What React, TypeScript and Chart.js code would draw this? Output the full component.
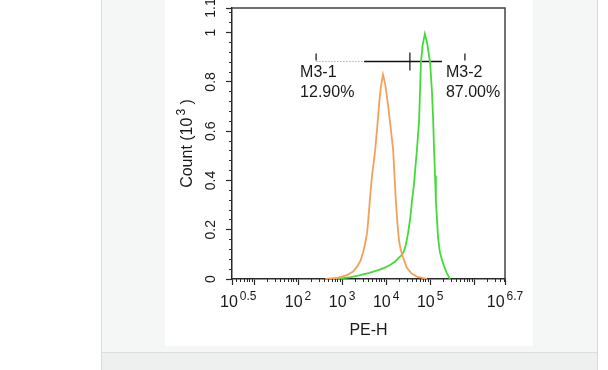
import React, { useEffect, useRef } from 'react';
import { Chart, registerables } from 'chart.js';

Chart.register(...registerables);

// ---- data (PE-H intensity, Count in 10^3) ----
const orangeX = [417, 759, 1290, 1780, 2190, 2630, 3020, 3390, 3720, 3980, 4270, 4790, 5620, 6310, 6920, 7590, 8510, 9550, 11000, 12600, 14500, 15500, 16600, 18200, 19500, 21400, 24000, 29500, 38000, 50100, 85100];
const orangeY = [0, 0.004, 0.016, 0.03, 0.05, 0.075, 0.11, 0.15, 0.19, 0.25, 0.32, 0.42, 0.52, 0.62, 0.71, 0.78, 0.83, 0.79, 0.71, 0.62, 0.52, 0.42, 0.32, 0.22, 0.16, 0.12, 0.09, 0.045, 0.022, 0.01, 0];

const greenX = [759, 1580, 2570, 4170, 6610, 9120, 12300, 15800, 19100, 21900, 25100, 28200, 31600, 35500, 38900, 42700, 45700, 50100, 56200, 61700, 67600, 75900, 85100, 100000, 110000, 117000, 123000, 129000, 135000, 151000, 166000, 186000, 214000, 240000, 282000];
const greenY = [0, 0.008, 0.016, 0.025, 0.036, 0.045, 0.057, 0.07, 0.085, 0.095, 0.11, 0.14, 0.187, 0.25, 0.32, 0.38, 0.442, 0.524, 0.645, 0.877, 0.95, 0.995, 0.96, 0.877, 0.76, 0.645, 0.524, 0.42, 0.32, 0.17, 0.11, 0.077, 0.045, 0.024, 0];

// ---- axes ----
const X_MIN = 3.1623; // 10^0.5
const X_MAX = 5011872; // 10^6.7
const xMajorTicks = [3.1623, 10, 100, 1000, 10000, 100000, 1000000, 5011872];
const xTickExponents = ['0.5', '', '2', '3', '4', '5', '', '6.7'];
const xMinorTicks: number[] = [];
[1, 10, 100, 1000, 10000, 100000, 1000000].forEach((d) => {
  for (let m = 2; m <= 9; m++) {
    const v = m * d;
    if (v > X_MIN && v < X_MAX) xMinorTicks.push(v);
  }
});

const Y_MIN = 0;
const Y_MAX = 1.1;
const yMajorTicks = [0, 0.2, 0.4, 0.6, 0.8, 1, 1.1];
const yTickLabels = ['0', '0.2', '0.4', '0.6', '0.8', '1', '1.1'];
const yMinorTicks = [0.04, 0.08, 0.12, 0.16, 0.24, 0.28, 0.32, 0.36, 0.44, 0.48, 0.52, 0.56, 0.64, 0.68, 0.72, 0.76, 0.84, 0.88, 0.92, 0.96, 1.04, 1.08];

const xTitle = 'PE-H';
const yTitleBase = 'Count (10';
const yTitleSup = '3';
const yTitleTail = ' )';

// ---- gates ----
const gateNames = ['M3-1', 'M3-2'];
const gatePercents = ['12.90%', '87.00%'];
const gateEdges = [257, 34700, 616000];
const gateLevel = 0.885;
const gateBar = [3160, 186000];

const FONT = '"Liberation Sans", Arial, Helvetica, sans-serif';
const TEXT = '#1a1a1a';
const AXIS = '#2a2a2a';

function f(size: number) {
  return `${size}px ${FONT}`;
}

const overlay = {
  id: 'flowOverlay',
  beforeDatasetsDraw(chart: any) {
    const { ctx, chartArea: a, scales } = chart;
    const x = scales.x;
    const y = scales.y;
    ctx.save();
    // frame top/right
    ctx.strokeStyle = '#444';
    ctx.lineWidth = 1.5;
    ctx.beginPath();
    ctx.moveTo(a.left, a.top);
    ctx.lineTo(a.right, a.top);
    ctx.lineTo(a.right, a.bottom);
    ctx.stroke();

    // gates
    const gy = Math.round(y.getPixelForValue(gateLevel)) + 0.5;
    const p0 = x.getPixelForValue(gateEdges[0]);
    const p1 = x.getPixelForValue(gateEdges[1]);
    const p2 = x.getPixelForValue(gateEdges[2]);
    const b0 = x.getPixelForValue(gateBar[0]);
    const b1 = x.getPixelForValue(gateBar[1]);
    ctx.strokeStyle = '#b5b5b5';
    ctx.lineWidth = 1;
    ctx.setLineDash([1.5, 1.5]);
    ctx.beginPath();
    ctx.moveTo(p0, gy);
    ctx.lineTo(b0, gy);
    ctx.stroke();
    ctx.setLineDash([]);
    ctx.strokeStyle = '#111';
    ctx.lineWidth = 1.5;
    ctx.beginPath();
    ctx.moveTo(b0, gy);
    ctx.lineTo(b1, gy);
    ctx.stroke();
    ctx.lineWidth = 1.2;
    ctx.beginPath();
    ctx.moveTo(p0, gy - 8);
    ctx.lineTo(p0, gy - 1);
    ctx.moveTo(p2, gy - 8);
    ctx.lineTo(p2, gy - 1);
    ctx.moveTo(p1, gy - 9);
    ctx.lineTo(p1, gy + 9);
    ctx.stroke();

    // gate labels
    ctx.fillStyle = TEXT;
    ctx.font = f(16);
    ctx.textAlign = 'left';
    ctx.textBaseline = 'alphabetic';
    const lx = [p0 - 16, p2 - 19];
    for (let i = 0; i < gateNames.length; i++) {
      ctx.fillText(gateNames[i], lx[i], gy + 15);
      ctx.fillText(gatePercents[i], lx[i], gy + 35);
    }
    ctx.restore();
  },
  afterDraw(chart: any) {
    const { ctx, chartArea: a, scales } = chart;
    const x = scales.x;
    const y = scales.y;
    ctx.save();
    ctx.fillStyle = TEXT;
    ctx.textBaseline = 'alphabetic';
    ctx.textAlign = 'left';

    // x tick labels 10^n
    for (let i = 0; i < xMajorTicks.length; i++) {
      const e = xTickExponents[i];
      if (!e) continue;
      const px = x.getPixelForValue(xMajorTicks[i]);
      ctx.font = f(16);
      const wb = ctx.measureText('10').width;
      ctx.font = f(12);
      const ws = ctx.measureText(e).width;
      const total = wb + 2 + ws;
      let left = px - total / 2;
      left = Math.max(left, a.left - 12);
      ctx.font = f(16);
      ctx.fillText('10', left, a.bottom + 28);
      ctx.font = f(12);
      ctx.fillText(e, left + wb + 2, a.bottom + 21);
    }

    // x title
    ctx.font = f(16);
    ctx.textAlign = 'center';
    ctx.fillText(xTitle, (a.left + a.right) / 2, a.bottom + 56);

    // y tick labels, rotated
    ctx.font = f(14);
    ctx.textBaseline = 'middle';
    for (let i = 0; i < yMajorTicks.length; i++) {
      const py = y.getPixelForValue(yMajorTicks[i]);
      ctx.save();
      ctx.translate(a.left - 21, py);
      ctx.rotate(-Math.PI / 2);
      ctx.textAlign = 'center';
      ctx.fillText(yTickLabels[i], 0, 0);
      ctx.restore();
    }

    // y title, rotated with superscript
    ctx.save();
    ctx.translate(a.left - 46, (a.top + a.bottom) / 2);
    ctx.rotate(-Math.PI / 2);
    ctx.textAlign = 'left';
    ctx.textBaseline = 'alphabetic';
    ctx.font = f(16);
    const w1 = ctx.measureText(yTitleBase).width;
    const w3 = ctx.measureText(yTitleTail).width;
    ctx.font = f(12);
    const w2 = ctx.measureText(yTitleSup).width;
    const tot = w1 + 2 + w2 + w3;
    let cx = -tot / 2;
    ctx.font = f(16);
    ctx.fillText(yTitleBase, cx, 6);
    cx += w1 + 2;
    ctx.font = f(12);
    ctx.fillText(yTitleSup, cx, -1);
    cx += w2;
    ctx.font = f(16);
    ctx.fillText(yTitleTail, cx, 6);
    ctx.restore();

    ctx.restore();
  },
};

function ticksOf(values: number[]) {
  return values.map((v) => ({ value: v }));
}

export default function App() {
  const ref = useRef<HTMLCanvasElement | null>(null);

  useEffect(() => {
    const canvas = ref.current;
    if (!canvas) return;
    const chart = new Chart(canvas, {
      type: 'line',
      data: {
        datasets: [
          {
            label: 'M3 control',
            data: orangeX.map((v, i) => ({ x: v, y: orangeY[i] })),
            borderColor: '#F3A05C',
            borderWidth: 1.8,
            pointRadius: 0,
            tension: 0,
            fill: false,
            xAxisID: 'x',
            yAxisID: 'y',
          },
          {
            label: 'M3 sample',
            data: greenX.map((v, i) => ({ x: v, y: greenY[i] })),
            borderColor: '#44DB3A',
            borderWidth: 1.8,
            pointRadius: 0,
            tension: 0,
            fill: false,
            xAxisID: 'x',
            yAxisID: 'y',
          },
        ],
      },
      options: {
        animation: false,
        responsive: false,
        devicePixelRatio: 1,
        events: [],
        layout: { padding: { top: 8, right: 28, left: 0, bottom: 0 } },
        plugins: { legend: { display: false }, tooltip: { enabled: false } },
        scales: {
          x: {
            type: 'logarithmic',
            position: 'bottom',
            min: X_MIN,
            max: X_MAX,
            weight: 1,
            ticks: { display: false },
            grid: { display: true, drawOnChartArea: false, drawTicks: true, tickLength: 6, tickColor: AXIS, tickWidth: 1.2 },
            border: { display: true, color: AXIS, width: 1.5 },
            afterBuildTicks: (s: any) => { s.ticks = ticksOf(xMajorTicks); },
            afterFit: (s: any) => { s.height = 67; },
          },
          xMinor: {
            type: 'logarithmic',
            position: 'bottom',
            min: X_MIN,
            max: X_MAX,
            weight: 0,
            ticks: { display: false },
            grid: { display: true, drawOnChartArea: false, drawTicks: true, tickLength: 3, tickColor: AXIS, tickWidth: 1 },
            border: { display: false },
            afterBuildTicks: (s: any) => { s.ticks = ticksOf(xMinorTicks); },
            afterFit: (s: any) => { s.height = 0; },
          },
          y: {
            type: 'linear',
            position: 'left',
            min: Y_MIN,
            max: Y_MAX,
            weight: 1,
            ticks: { display: false },
            grid: { display: true, drawOnChartArea: false, drawTicks: true, tickLength: 6, tickColor: AXIS, tickWidth: 1.2 },
            border: { display: true, color: AXIS, width: 1.5 },
            afterBuildTicks: (s: any) => { s.ticks = ticksOf(yMajorTicks); },
            afterFit: (s: any) => { s.width = 67; },
          },
          yMinor: {
            type: 'linear',
            position: 'left',
            min: Y_MIN,
            max: Y_MAX,
            weight: 0,
            ticks: { display: false },
            grid: { display: true, drawOnChartArea: false, drawTicks: true, tickLength: 3, tickColor: AXIS, tickWidth: 1 },
            border: { display: false },
            afterBuildTicks: (s: any) => { s.ticks = ticksOf(yMinorTicks); },
            afterFit: (s: any) => { s.width = 0; },
          },
        },
      } as any,
      plugins: [overlay],
    });
    return () => chart.destroy();
  }, []);

  return (
    <div style={{ position: 'fixed', left: 0, top: 0, width: 608, height: 370, background: '#ffffff', overflow: 'hidden' }}>
      <div style={{ position: 'absolute', left: 101, top: 0, width: 497, height: 370, background: '#eeefef', borderLeft: '1px solid #d9dbdb', borderRight: '1px solid #d9dbdb', boxSizing: 'border-box' }} />
      <div style={{ position: 'absolute', left: 101, top: 0, width: 497, height: 353, background: '#f5f6f6', borderLeft: '1px solid #d9dbdb', borderRight: '1px solid #d9dbdb', borderBottom: '1px solid #dcdede', boxSizing: 'border-box' }} />
      <div style={{ position: 'absolute', left: 165, top: 0, width: 368, height: 346, background: '#ffffff' }}>
        <canvas ref={ref} width={368} height={346} style={{ display: 'block', width: 368, height: 346 }} />
      </div>
    </div>
  );
}
